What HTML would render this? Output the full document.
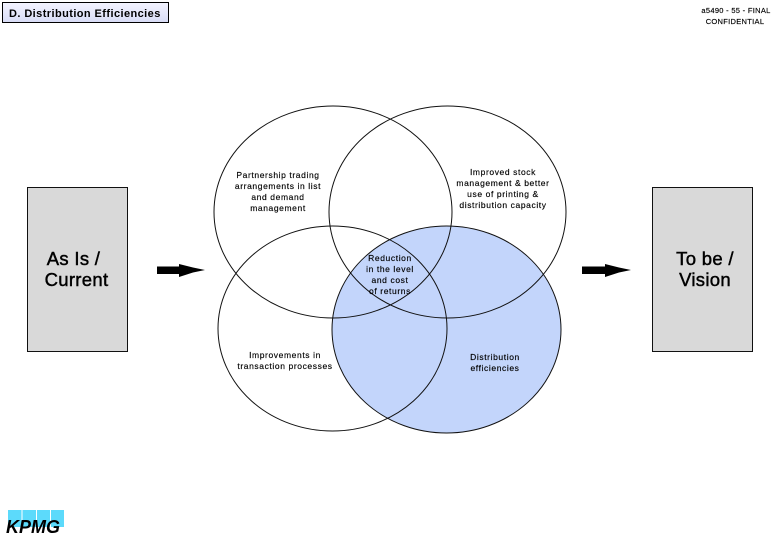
<!DOCTYPE html>
<html><head><meta charset="utf-8"><style>
html,body{margin:0;padding:0;background:#fff}
svg{display:block}
text{font-family:"Liberation Sans",sans-serif;fill:#000}
.s{font-size:8.5px;text-anchor:middle;letter-spacing:.6px;stroke:#000;stroke-width:.15px}
.b{font-size:18.5px;text-anchor:middle;letter-spacing:.3px;stroke:#000;stroke-width:.45px}
</style></head><body>
<svg width="780" height="540" viewBox="0 0 780 540" xmlns="http://www.w3.org/2000/svg">
<defs><linearGradient id="g" x1="0" y1="0" x2="0" y2="1"><stop offset="0" stop-color="#f4f4ff"/><stop offset="1" stop-color="#d8dcf6"/></linearGradient></defs>
<rect x="2.5" y="2.5" width="166" height="20" fill="url(#g)" stroke="#000"/>
<text x="9" y="17" style="font-size:11px;font-weight:bold;letter-spacing:.42px">D. Distribution Efficiencies</text>
<text class="s" x="736" y="13" style="font-size:7.5px;letter-spacing:.3px">a5490 - 55 - FINAL</text>
<text class="s" x="735" y="24" style="font-size:7.5px;letter-spacing:.3px">CONFIDENTIAL</text>

<rect x="27.5" y="187.5" width="100" height="164" fill="#d9d9d9" stroke="#111"/>
<text class="b" x="73.5" y="265">As Is /</text>
<text class="b" x="76.5" y="286">Current</text>
<rect x="652.5" y="187.5" width="100" height="164" fill="#d9d9d9" stroke="#111"/>
<text class="b" x="705" y="265">To be /</text>
<text class="b" x="705" y="286">Vision</text>

<polygon points="157,266.5 179,266.5 179,264 193,267.5 205,270 193,272.5 179,277 179,274 157,274" fill="#000"/>
<polygon points="582,266.5 605,266.5 605,264 619,267.5 631,270 619,272.5 605,277 605,274 582,274" fill="#000"/>

<ellipse cx="446.5" cy="329.5" rx="114.5" ry="103.5" fill="#c3d5fb"/>
<g fill="none" stroke="#111" stroke-width="1">
<ellipse cx="333" cy="212" rx="119" ry="106"/>
<ellipse cx="447.5" cy="212" rx="118.5" ry="106"/>
<ellipse cx="332.5" cy="328.5" rx="114.5" ry="102.5"/>
<ellipse cx="446.5" cy="329.5" rx="114.5" ry="103.5"/>
</g>

<text class="s" x="278" y="178">Partnership trading</text>
<text class="s" x="278" y="189">arrangements in list</text>
<text class="s" x="278" y="200">and demand</text>
<text class="s" x="278" y="211">management</text>

<text class="s" x="503" y="175">Improved stock</text>
<text class="s" x="503" y="186">management &amp; better</text>
<text class="s" x="503" y="197">use of printing &amp;</text>
<text class="s" x="503" y="208">distribution capacity</text>

<text class="s" x="390" y="261">Reduction</text>
<text class="s" x="390" y="272">in the level</text>
<text class="s" x="390" y="283">and cost</text>
<text class="s" x="390" y="294">of returns</text>

<text class="s" x="285" y="358">Improvements in</text>
<text class="s" x="285" y="369">transaction processes</text>

<text class="s" x="495" y="360">Distribution</text>
<text class="s" x="495" y="371">efficiencies</text>

<g fill="#5cdafb">
<rect x="8" y="510" width="13.5" height="17"/>
<rect x="22.5" y="510" width="13.5" height="17"/>
<rect x="37" y="510" width="13" height="17"/>
<rect x="51" y="510" width="13" height="17"/>
</g>
<text x="6" y="533" style="font-size:18px;font-weight:bold;font-style:italic;fill:#000">KPMG</text>
</svg>
</body></html>
